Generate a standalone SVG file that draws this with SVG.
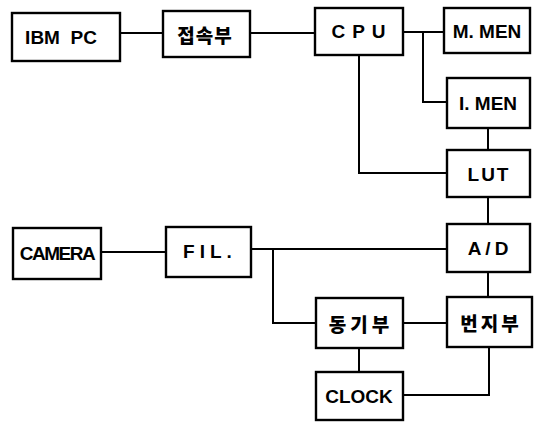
<svg xmlns="http://www.w3.org/2000/svg" width="534" height="422" viewBox="0 0 534 422">
<style>
.b{fill:#fff;stroke:#000;stroke-width:2.4}
.t{font-family:"Liberation Sans","Noto Sans CJK KR",sans-serif;font-weight:bold;font-size:19px;fill:#000;text-anchor:middle;dominant-baseline:central}
.k{font-family:"Noto Sans CJK KR",sans-serif;font-weight:900;font-size:19px;fill:#000;text-anchor:middle;dominant-baseline:central}
.c{fill:none;stroke:#000;stroke-width:2}
</style>
<rect width="534" height="422" fill="#fff"/>
<g id="connectors">
<path class="c" d="M120 33H163"/>
<path class="c" d="M250 33H315"/>
<path class="c" d="M403 32H444"/>
<path class="c" d="M423 32V102H447"/>
<path class="c" d="M359 55V173H447"/>
<path class="c" d="M488 128V150"/>
<path class="c" d="M488 197V224"/>
<path class="c" d="M101 252H166"/>
<path class="c" d="M251 249H447"/>
<path class="c" d="M273 249V323H316"/>
<path class="c" d="M403 323H447"/>
<path class="c" d="M488 272V297"/>
<path class="c" d="M359 348V372"/>
<path class="c" d="M489 347V395H403"/>
</g>
<g id="ibmpc"><rect class="b" x="12" y="13" width="108" height="48"/><text class="t" x="61" y="37" xml:space="preserve">IBM  PC</text></g>
<g id="jeopsokbu"><rect class="b" x="163" y="11" width="87" height="46"/><text class="k" x="205" y="34" letter-spacing="1">접속부</text></g>
<g id="cpu"><rect class="b" x="315" y="8" width="88" height="47"/><text class="t" x="362" y="31" letter-spacing="7">CPU</text></g>
<g id="mmen"><rect class="b" x="444" y="8" width="86" height="45"/><text class="t" x="487" y="31">M. MEN</text></g>
<g id="imen"><rect class="b" x="447" y="78" width="83" height="50"/><text class="t" x="488" y="103">I. MEN</text></g>
<g id="lut"><rect class="b" x="447" y="150" width="83" height="47"/><text class="t" x="489" y="174" letter-spacing="2">LUT</text></g>
<g id="camera"><rect class="b" x="13" y="228" width="88" height="51"/><text class="t" x="57" y="253" letter-spacing="-1.5">CAMERA</text></g>
<g id="fil"><rect class="b" x="166" y="227" width="85" height="50"/><text class="t" x="210" y="251" letter-spacing="5">FIL.</text></g>
<g id="ad"><rect class="b" x="447" y="224" width="83" height="48"/><text class="t" x="490" y="248" letter-spacing="4">A/D</text></g>
<g id="donggibu"><rect class="b" x="316" y="298" width="87" height="50"/><text class="k" x="361" y="323" letter-spacing="4">동기부</text></g>
<g id="beonjibu"><rect class="b" x="447" y="297" width="85" height="50"/><text class="k" x="491" y="322" letter-spacing="3">번지부</text></g>
<g id="clock"><rect class="b" x="316" y="372" width="87" height="48"/><text class="t" x="359" y="396">CLOCK</text></g>
</svg>
